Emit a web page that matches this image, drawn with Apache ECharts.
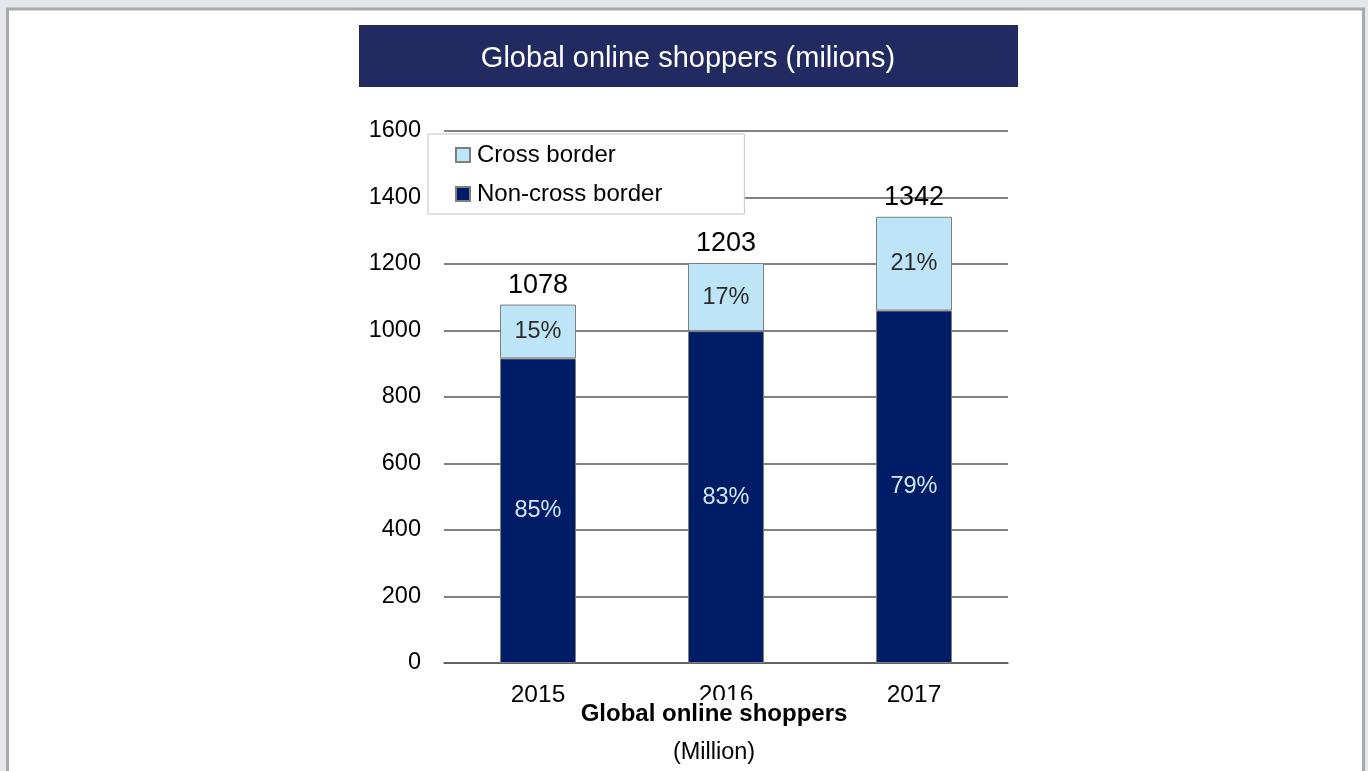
<!DOCTYPE html>
<html>
<head>
<meta charset="utf-8">
<title>Global online shoppers</title>
<script src="https://cdn.jsdelivr.net/npm/echarts@6/dist/echarts.min.js"></script>
<style>
  html, body { margin: 0; padding: 0; background: #e4e6eb; }
  #chart { width: 1368px; height: 771px; }
</style>
</head>
<body>
<div id="chart"></div>
<script>
// Years on the category axis
const years = ['2015', '2016', '2017'];
// Shoppers in millions, split by type
const nonCrossBorder = [916, 998, 1060];
const crossBorder = [162, 205, 282];
// Value-axis ticks
const yTicks = [0, 200, 400, 600, 800, 1000, 1200, 1400, 1600];

const totals = years.map((_, i) => nonCrossBorder[i] + crossBorder[i]);
const share = (v, i) => Math.round(v / totals[i] * 100) + '%';

const FONT = 'Arial';

const chart = echarts.init(document.getElementById('chart'), null, { renderer: 'canvas' });

chart.setOption({
  backgroundColor: '#e4e6eb',
  animation: false,
  textStyle: { fontFamily: FONT },
  graphic: [
    // slide page
    {
      type: 'rect', z: -10, silent: true,
      shape: { x: 7.5, y: 9, width: 1356, height: 800 },
      style: { fill: '#ffffff', stroke: '#a9a9a9', lineWidth: 3 }
    },
    // title banner
    {
      type: 'rect', z: -5, silent: true,
      shape: { x: 359, y: 25, width: 659, height: 62 },
      style: { fill: '#222a62' }
    },
    {
      type: 'text', z: 10, silent: true,
      x: 688, y: 58.5,
      style: {
        text: 'Global online shoppers (milions)',
        fill: '#ffffff', font: '29px Arial',
        align: 'center', verticalAlign: 'middle'
      }
    },
    // caption under the axis (its white box trims the middle year label)
    {
      type: 'text', z: 10, silent: true,
      x: 714, y: 714,
      style: {
        text: 'Global online shoppers',
        fill: '#000000', font: 'bold 24px Arial',
        align: 'center', verticalAlign: 'middle',
        backgroundColor: '#ffffff', padding: [2, 3, 2, 3]
      }
    },
    {
      type: 'text', z: 10, silent: true,
      x: 714, y: 753,
      style: {
        text: '(Million)',
        fill: '#000000', font: '23.5px Arial',
        align: 'center', verticalAlign: 'middle'
      }
    }
  ],
  legend: {
    data: ['Cross border', 'Non-cross border'],
    orient: 'vertical',
    left: 428, top: 134,
    padding: [9, 82, 8, 27],
    itemGap: 15,
    itemWidth: 14, itemHeight: 14,
    icon: 'rect',
    backgroundColor: '#ffffff',
    borderColor: '#c4c4c4', borderWidth: 1,
    textStyle: { fontSize: 24, color: '#000', fontFamily: FONT, padding: [0, 0, 0, 2] }
  },
  grid: { left: 444, right: 360, top: 131, bottom: 108, containLabel: false },
  xAxis: {
    type: 'category',
    data: years,
    axisLine: { show: true, lineStyle: { color: '#595959', width: 1.5 } },
    axisTick: { show: false },
    axisLabel: { fontSize: 24.5, color: '#000', margin: 20, fontFamily: FONT }
  },
  yAxis: {
    type: 'value',
    min: yTicks[0], max: yTicks[yTicks.length - 1], interval: yTicks[1] - yTicks[0],
    axisLine: { show: false },
    axisTick: { show: false },
    axisLabel: {
      fontSize: 23.5, color: '#000', margin: 23, fontFamily: FONT,
      padding: [4, 0, 0, 0], formatter: v => String(v)
    },
    splitLine: { lineStyle: { color: '#595959', width: 1.5 } }
  },
  series: [
    {
      name: 'Non-cross border',
      type: 'bar', stack: 'shoppers', barWidth: 76,
      data: nonCrossBorder,
      itemStyle: { color: '#001c66', borderColor: '#7f7f7f', borderWidth: 1 },
      label: {
        show: true, position: 'inside',
        formatter: p => share(p.value, p.dataIndex),
        color: '#d2e6f5', fontSize: 23.5, fontFamily: FONT
      }
    },
    {
      name: 'Cross border',
      type: 'bar', stack: 'shoppers', barWidth: 76,
      data: crossBorder,
      itemStyle: { color: '#bde4f7', borderColor: '#7f7f7f', borderWidth: 1 },
      label: {
        show: true, position: 'inside',
        formatter: p => share(p.value, p.dataIndex),
        color: '#2b2b2b', fontSize: 23.5, fontFamily: FONT
      }
    },
    {
      name: 'Total',
      type: 'scatter',
      data: totals,
      symbolSize: 0,
      silent: true,
      itemStyle: { opacity: 1 },
      label: {
        show: true, position: 'top', distance: 6,
        formatter: p => String(p.value),
        color: '#000', opacity: 1, fontSize: 27, fontFamily: FONT
      }
    }
  ]
});
</script>
</body>
</html>
